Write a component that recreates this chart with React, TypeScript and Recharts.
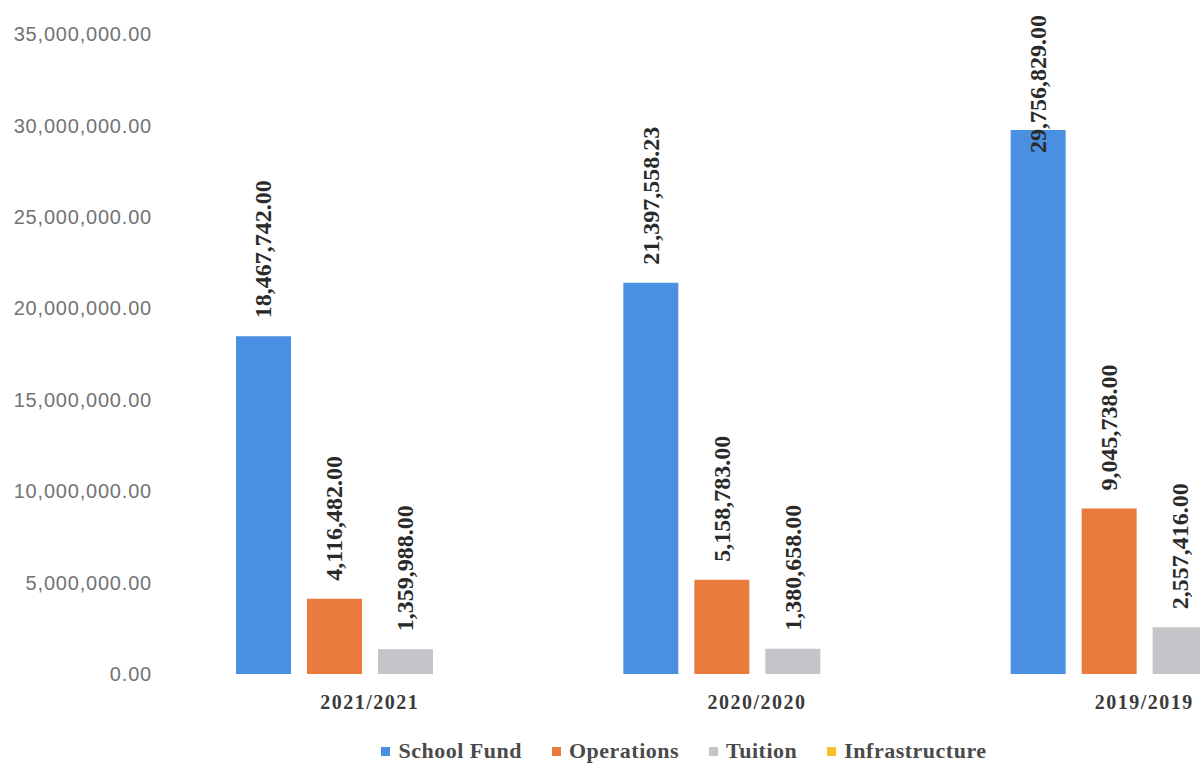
import React from "react";
import { Bar, BarChart, LabelList, Legend, XAxis, YAxis } from "recharts";

const YEARS = ["2021/2021", "2020/2020", "2019/2019"];
const SCHOOL_FUND = [18467742, 21397558.23, 29756829];
const OPERATIONS = [4116482, 5158783, 9045738];
const TUITION = [1359988, 1380658, 2557416];
const INFRASTRUCTURE = [0, 0, 0];
const Y_TICKS = [0, 5000000, 10000000, 15000000, 20000000, 25000000, 30000000, 35000000];
const SERIES_ORDER = ["School Fund", "Operations", "Tuition", "Infrastructure"];

const data = YEARS.map((year, i) => ({
  year,
  schoolFund: SCHOOL_FUND[i],
  operations: OPERATIONS[i],
  tuition: TUITION[i],
  infrastructure: INFRASTRUCTURE[i],
}));

const BLUE = "#4a90e2";
const ORANGE = "#ea7a3d";
const GRAY = "#c4c4c9";
const YELLOW = "#f8c02a";

const SERIF = "'Liberation Serif', 'Times New Roman', serif";
const SANS = "'Liberation Sans', Arial, sans-serif";

const LABEL_SIZE = 24;

const fmt = (v: number) =>
  v === 0
    ? "-"
    : v.toLocaleString("en-US", { minimumFractionDigits: 2, maximumFractionDigits: 2 });

// rough text length so a label that would run off the top slides down into its bar
const textLen = (s: string) =>
  s.split("").reduce((acc, ch) => acc + (/[0-9]/.test(ch) ? 0.5 : 0.25), 0) * LABEL_SIZE;

function BarLabel(props: any) {
  const { x, y, width, value } = props;
  const text = fmt(Number(value));
  const cx = Number(x) + Number(width) / 2;
  const start = Math.max(Number(y) - 18, 15 + textLen(text));
  return (
    <text
      x={cx}
      y={start}
      transform={`rotate(-90, ${cx}, ${start})`}
      textAnchor="start"
      dominantBaseline="central"
      fontFamily={SERIF}
      fontWeight="bold"
      fontSize={LABEL_SIZE}
      fill="#2a2a2a"
    >
      {text}
    </text>
  );
}

function LegendContent(props: any) {
  const items = [...(props.payload || [])].sort(
    (a: any, b: any) => SERIES_ORDER.indexOf(a.value) - SERIES_ORDER.indexOf(b.value)
  );
  return (
    <div style={{ display: "flex", justifyContent: "center", gap: 30 }}>
      {items.map((p: any) => (
        <div key={p.value} style={{ display: "flex", alignItems: "center" }}>
          <span
            style={{
              display: "inline-block",
              width: 9,
              height: 9,
              background: p.color,
              marginRight: 8,
            }}
          />
          <span
            style={{
              fontFamily: SERIF,
              fontWeight: "bold",
              fontSize: 22,
              color: "#4a4a4a",
              letterSpacing: 0.5,
            }}
          >
            {p.value}
          </span>
        </div>
      ))}
    </div>
  );
}

export default function App() {
  return (
    <div
      style={{
        position: "absolute",
        left: 0,
        top: 0,
        width: 1200,
        height: 764,
        overflow: "hidden",
        background: "#fff",
      }}
    >
      <BarChart
        width={1340}
        height={764}
        data={data}
        margin={{ top: 34, right: 2, left: 0, bottom: 24 }}
        barSize={55}
        barGap={16}
      >
        <XAxis
          dataKey="year"
          axisLine={false}
          tickLine={false}
          tickSize={0}
          tickMargin={21}
          height={40}
          tick={{ fontSize: 20, fill: "#3a3a3a", fontFamily: SERIF, fontWeight: "bold", letterSpacing: 1.5 }}
        />
        <YAxis
          domain={[0, 35000000]}
          ticks={Y_TICKS}
          width={176}
          axisLine={false}
          tickLine={false}
          tickSize={0}
          tickMargin={24}
          tickFormatter={(v: number) =>
            v.toLocaleString("en-US", { minimumFractionDigits: 2, maximumFractionDigits: 2 })
          }
          tick={{ fontSize: 20, fill: "#737373", fontFamily: SANS, letterSpacing: 0.8 }}
        />
        <Legend
          content={<LegendContent />}
          verticalAlign="bottom"
          wrapperStyle={{ top: 738, left: 15, height: 26 }}
        />
        <Bar dataKey="schoolFund" name="School Fund" fill={BLUE} isAnimationActive={false}>
          <LabelList dataKey="schoolFund" content={<BarLabel />} />
        </Bar>
        <Bar dataKey="operations" name="Operations" fill={ORANGE} isAnimationActive={false}>
          <LabelList dataKey="operations" content={<BarLabel />} />
        </Bar>
        <Bar dataKey="tuition" name="Tuition" fill={GRAY} isAnimationActive={false}>
          <LabelList dataKey="tuition" content={<BarLabel />} />
        </Bar>
        <Bar dataKey="infrastructure" name="Infrastructure" fill={YELLOW} isAnimationActive={false}>
          <LabelList dataKey="infrastructure" content={<BarLabel />} />
        </Bar>
      </BarChart>
    </div>
  );
}
